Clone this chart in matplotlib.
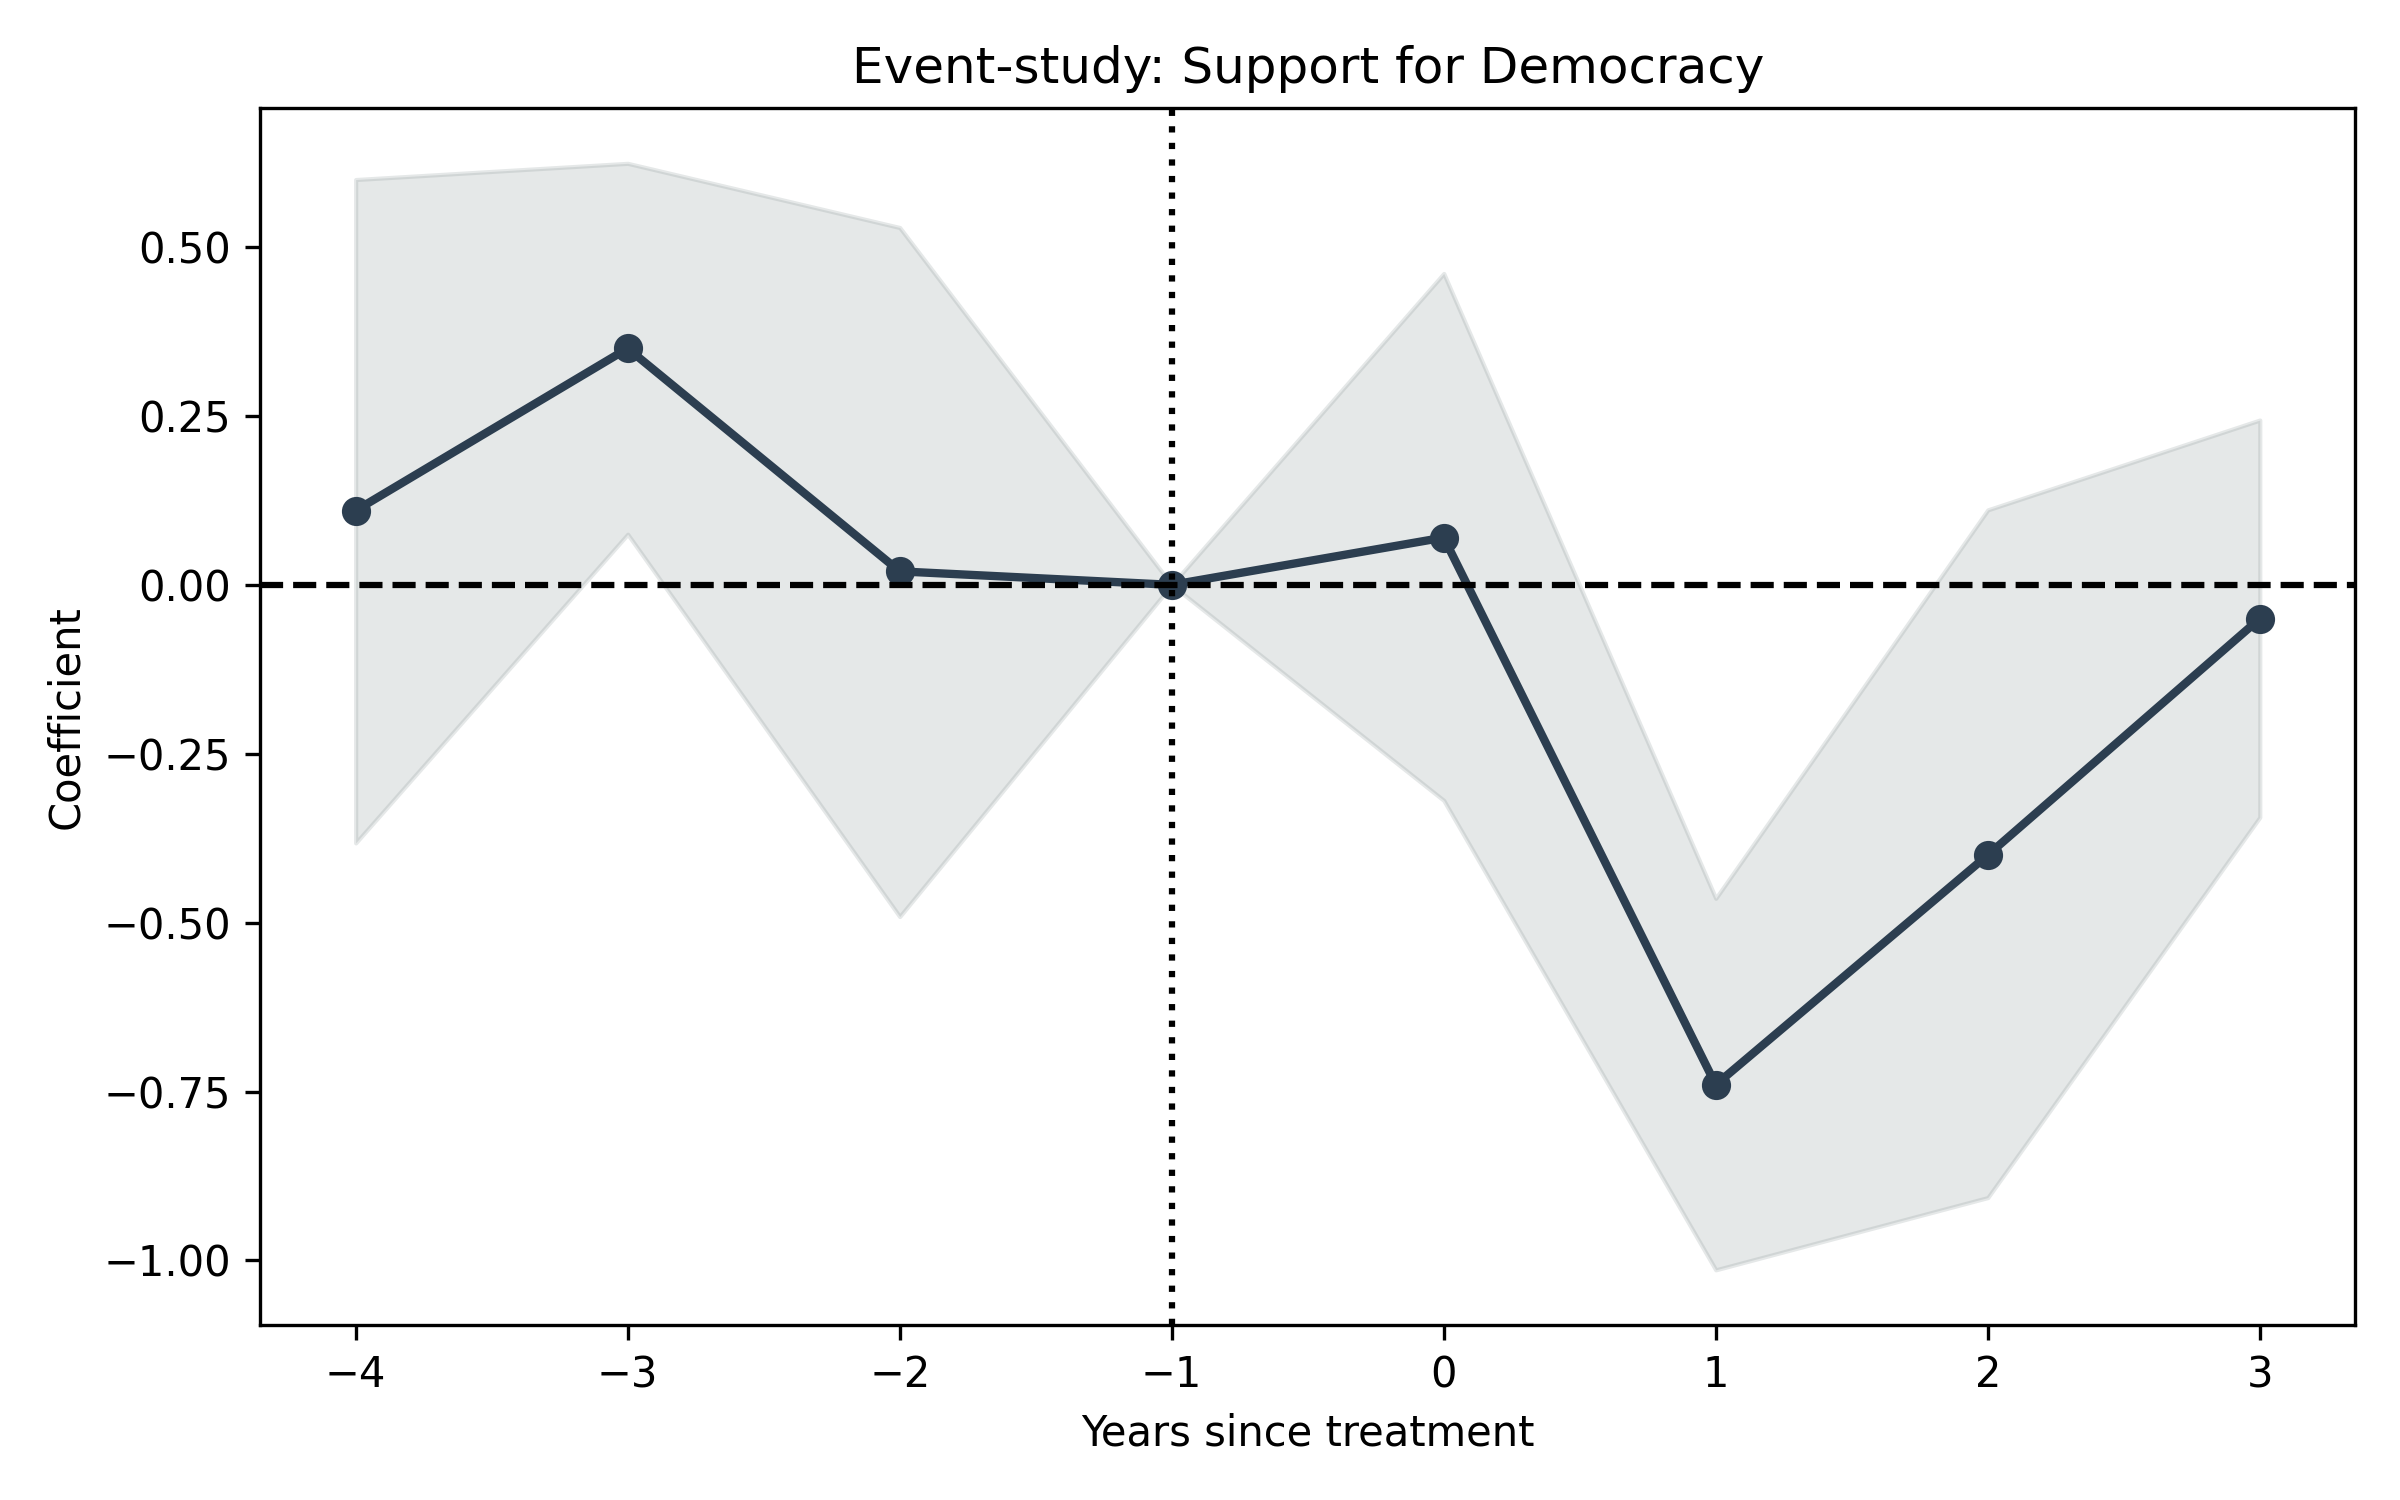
import matplotlib
matplotlib.use("Agg")
import matplotlib.pyplot as plt

years = [-4, -3, -2, -1, 0, 1, 2, 3]
coef = [0.11, 0.35, 0.02, 0.0, 0.07, -0.74, -0.40, -0.05]
ci_low = [-0.382, 0.075, -0.491, 0.0, -0.319, -1.014, -0.907, -0.344]
ci_high = [0.600, 0.624, 0.529, 0.0, 0.461, -0.464, 0.111, 0.244]

fig, ax = plt.subplots(figsize=(8, 5), dpi=300)
ax.fill_between(years, ci_low, ci_high, color="#7f8c8d", alpha=0.2)
ax.plot(years, coef, marker="o", color="#2c3e50", lw=2, markersize=6)
ax.axhline(0, color="black", linestyle="--", lw=1.5)
ax.axvline(-1, color="black", linestyle=":", lw=1.5)
ax.set_title("Event-study: Support for Democracy")
ax.set_xlabel("Years since treatment")
ax.set_ylabel("Coefficient")
fig.tight_layout()
fig.savefig("out.png", dpi=300)
